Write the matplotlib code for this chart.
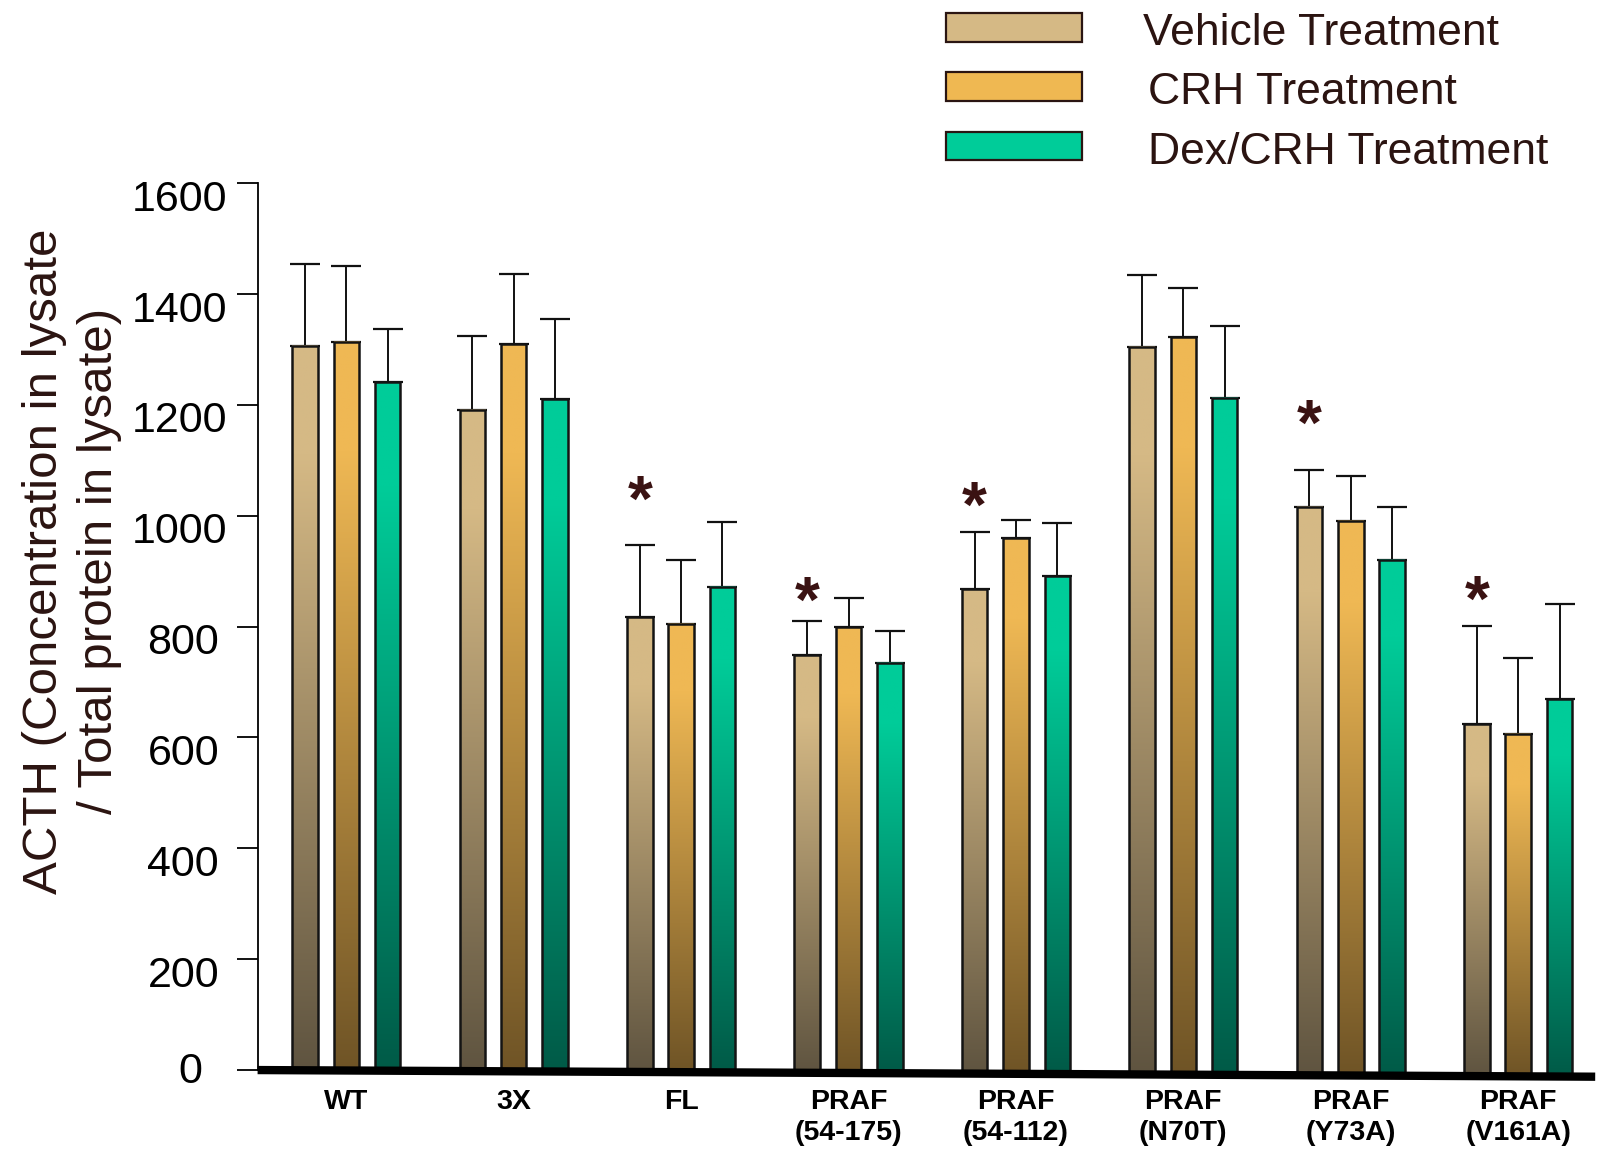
import numpy as np
import matplotlib
matplotlib.use("Agg")
from matplotlib import pyplot as plt
from matplotlib.colors import LinearSegmentedColormap
from matplotlib.patches import Rectangle
import matplotlib.transforms as mtransforms

groups = ["WT", "3X", "FL", "PRAF\n(54-175)", "PRAF\n(54-112)",
          "PRAF\n(N70T)", "PRAF\n(Y73A)", "PRAF\n(V161A)"]
series = ["Vehicle Treatment", "CRH Treatment", "Dex/CRH Treatment"]

vehicle = [1307, 1191, 817, 749, 867, 1305, 1016, 624]
crh = [1313, 1309, 805, 799, 959, 1322, 991, 606]
dex = [1241, 1210, 871, 735, 891, 1213, 921, 670]

vehicle_err = [148, 133, 131, 61, 103, 129, 67, 177]
crh_err = [138, 127, 116, 52, 33, 88, 81, 138]
dex_err = [96, 145, 118, 57, 96, 129, 95, 170]

# asterisks over vehicle bars (group index, y)
stars = [(2, 1048), (3, 867), (4, 1038), (6, 1186), (7, 869)]

top_colors = ["#D5B985", "#EFB854", "#00CC99"]
bottom_colors = ["#5F5440", "#6F5426", "#005A47"]
legend_colors = ["#D5B985", "#EFB852", "#00CC99"]

brown = "#2B1411"
narrow = ["Liberation Sans Narrow", "Liberation Sans", "DejaVu Sans"]

fig = plt.figure(figsize=(16, 11.52), dpi=100)
ax = fig.add_axes([0.161, 0.0567, 0.836, 0.7843])

x = np.arange(len(groups))
offset = 0.247
width = 0.152
xmin, xmax = -0.53, 7.46
drop = -12  # baseline sags a little to the right


def base_y(xx):
    return drop * (xx - xmin) / (xmax - xmin)


values = [vehicle, crh, dex]
errors = [vehicle_err, crh_err, dex_err]
grad = np.linspace(0, 1, 256).reshape(-1, 1)

for s in range(3):
    cmap = LinearSegmentedColormap.from_list(
        "g%d" % s, [(0, bottom_colors[s]), (0.85, top_colors[s]), (1, top_colors[s])])
    for g in range(len(groups)):
        cx = x[g] + (s - 1) * offset
        b = base_y(cx)
        h = values[s][g]
        ax.imshow(grad, cmap=cmap, origin="lower", aspect="auto",
                  extent=(cx - width / 2, cx + width / 2, b, h), zorder=2)
        ax.add_patch(Rectangle((cx - width / 2, b), width, h - b, fill=False,
                               edgecolor="#141414", linewidth=1.8, zorder=3))
    ax.errorbar(x + (s - 1) * offset, values[s], yerr=[np.zeros(len(groups)), errors[s]],
                fmt="none", ecolor="#111111", elinewidth=1.4, capsize=11,
                capthick=1.6, zorder=1)

for g, yy in stars:
    ax.annotate("*", xy=(x[g] - offset, yy), xytext=(0, -23),
                textcoords="offset points", ha="center", va="baseline",
                fontsize=46, fontweight="bold", color="#3A1212",
                family="Liberation Sans")

ax.plot([xmin, xmax], [base_y(xmin), base_y(xmax)], color="black",
        linewidth=6, solid_capstyle="butt", zorder=4, clip_on=False)

ax.set_xlim(xmin, xmax)
ax.set_ylim(-30, 1600)
ax.spines[["top", "right", "bottom"]].set_visible(False)
ax.spines["left"].set_bounds(0, 1600)
ax.spines["left"].set_linewidth(1.3)
ax.set_yticks(np.arange(0, 1601, 200))
ax.tick_params(axis="y", direction="out", length=15, width=1.3, pad=7,
               labelsize=31)
for lab in ax.get_yticklabels():
    lab.set_family("Liberation Sans")
    txt = lab.get_text()
    if txt == "0":
        dx, dy = -0.25, 0.03
    elif len(txt) == 3:
        dx, dy = -0.08, -0.12
    else:
        dx, dy = 0, -0.12
    lab.set_transform(lab.get_transform() +
                      mtransforms.ScaledTranslation(dx, dy, fig.dpi_scale_trans))
ax.set_xticks(x)
ax.set_xticklabels(groups, fontsize=20.5, fontweight="bold", family="Liberation Sans",
                   linespacing=1.22)
ax.tick_params(axis="x", length=0, pad=2)

fig.text(0.045, 0.513, "ACTH (Concentration in lysate\n/ Total protein in lysate)",
         rotation=90, ha="center", va="center", multialignment="center",
         fontsize=35.5, color=brown, family=narrow, linespacing=1.3)

# legend
for i, name in enumerate(series):
    top = 13.3 + i * 59.2
    fig.add_artist(Rectangle((946 / 1600, 1 - (top + 28.5) / 1152), 136 / 1600,
                             28.5 / 1152, transform=fig.transFigure,
                             facecolor=legend_colors[i], edgecolor="#2A1512",
                             linewidth=1.6))
    tx = 1143 if i == 0 else 1148
    fig.text(tx / 1600, 1 - (top + 20.5) / 1152, name, ha="left", va="center",
             fontsize=32, color=brown, family=narrow)

fig.savefig("out.png", dpi=100)
